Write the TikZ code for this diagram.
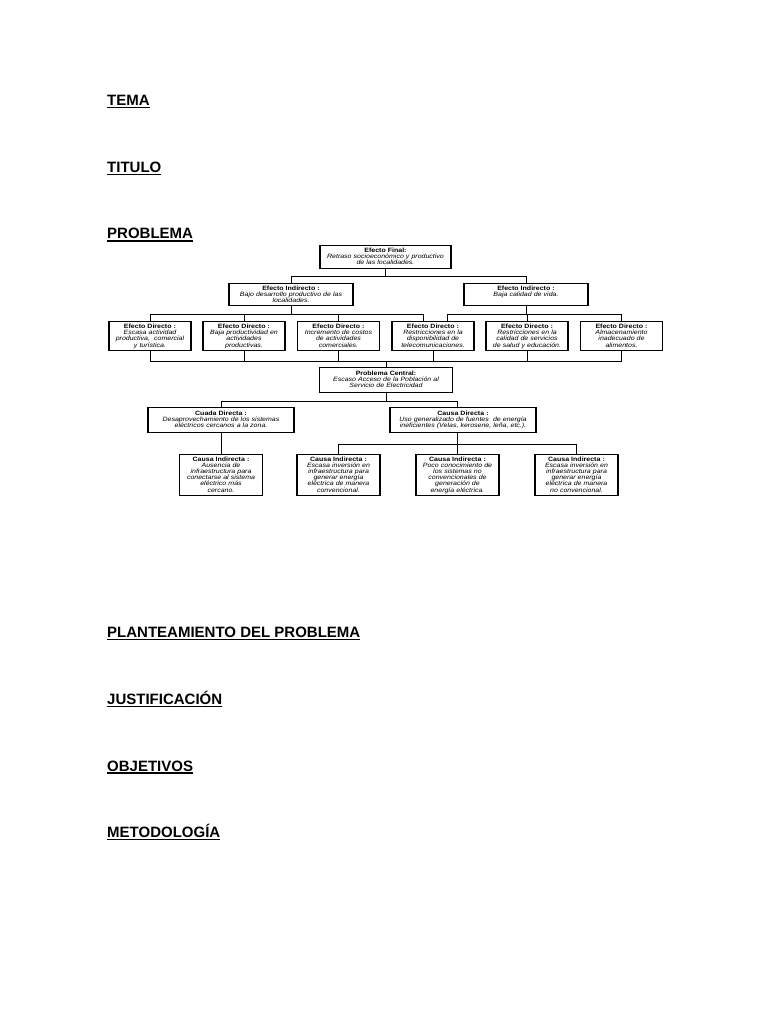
\documentclass[tikz,border=0pt]{standalone}
\usepackage{fontspec}
\setmainfont{Liberation Sans}
\newfontfamily\boxfont[FakeStretch=1.13]{Liberation Sans}
\usepackage{xcolor}
\newcommand\hul[1]{\sbox0{#1}\rlap{\usebox0}\rule[-2.6pt]{\wd0}{1.3pt}}
\newcommand\bx[2]{\rule{0pt}{5pt}\textbf{#1}\\{\itshape #2\rule[-1.7pt]{0pt}{1.7pt}}}
\newcommand\tightlines{\lineskiplimit=-5pt\relax\lineskip=0pt\relax}

\begin{document}
\begin{tikzpicture}[
    x=1pt, y=-1pt,
    head/.style={anchor=base west, inner sep=0pt, font=\fontsize{15}{16}\selectfont\bfseries},
    box/.style={draw, line width=1.2pt, anchor=north, inner xsep=0pt, inner ysep=1.5pt, align=center, font=\boxfont\fontsize{6.2}{6.2}\selectfont\tightlines},
    efbox/.style={box, text width=131pt, minimum height=23pt},
    eibox/.style={box, text width=124pt, minimum height=22pt},
    edbox/.style={box, text width=82pt, minimum height=29pt},
    pcbox/.style={box, text width=133pt, minimum height=25pt},
    cdbox/.style={box, text width=146pt, minimum height=25pt},
    cibox/.style={box, text width=83pt, minimum height=40pt},
    conn/.style={line width=0.8pt}
]
\path[use as bounding box, fill=white] (0,0) rectangle (768,1024);

\node[head] (tema) at (107,105.7) {\hul{TEMA}};
\node[head] (titulo) at (107,172.4) {\hul{TITULO}};
\node[head] (problema) at (107,239) {\hul{PROBLEMA}};
\node[head] (planteamiento) at (107,637.7) {\hul{PLANTEAMIENTO DEL PROBLEMA}};
\node[head] (justificacion) at (107,704.4) {\hul{JUSTIFICACIÓN}};
\node[head] (objetivos) at (107,771) {\hul{OBJETIVOS}};
\node[head] (metodologia) at (107,837.7) {\hul{METODOLOGÍA}};

\node[efbox] (ef) at (385.5,245) {\bx{Efecto Final:}{Retraso socioeconómico y productivo\\de las localidades.}};

\node[eibox] (ei1) at (291,283) {\bx{Efecto Indirecto :}{Bajo desarrollo productivo de las\\localidades.}};
\node[eibox] (ei2) at (526,283) {\bx{Efecto Indirecto :}{Baja calidad de vida.\\\mbox{}}};

\node[edbox] (ed1) at (150,321) {\bx{Efecto Directo :}{Escasa actividad\\productiva,\ \ comercial\\y turística.}};
\node[edbox] (ed2) at (244,321) {\bx{Efecto Directo :}{Baja productividad en\\actividades\\productivas.}};
\node[edbox] (ed3) at (338.5,321) {\bx{Efecto Directo :}{Incremento de costos\\de actividades\\comerciales.}};
\node[edbox] (ed4) at (433,321) {\bx{Efecto Directo :}{Restricciones en la\\disponibilidad de\\telecomunicaciones.}};
\node[edbox] (ed5) at (527,321) {\bx{Efecto Directo :}{Restricciones en la\\calidad de servicios\\de salud y educación.}};
\node[edbox] (ed6) at (621.5,321) {\bx{Efecto Directo :}{Almacenamiento\\inadecuado de\\alimentos.}};

\node[pcbox] (pc) at (386,367) {\bx{Problema Central:}{Escaso Acceso de la Población al\\Servicio de Electricidad}};

\node[cdbox] (cd1) at (221,407) {\bx{Cuada Directa :}{Desaprovechamiento de los sistemas\\eléctricos cercanos a la zona.}};
\node[cdbox] (cd2) at (463,407) {\bx{Causa Directa :}{Uso generalizado de fuentes\ \ de energía\\ineficientes (Velas, kerosene, leña, etc.).}};

\node[cibox] (ci1) at (221,454) {\bx{Causa Indirecta :}{Ausencia de\\infraestructura para\\conectarse al sistema\\eléctrico más\\cercano.}};
\node[cibox] (ci2) at (338.5,454) {\bx{Causa Indirecta :}{Escasa inversión en\\infraestructura para\\generar energía\\eléctrica de manera\\convencional.}};
\node[cibox] (ci3) at (457.5,454) {\bx{Causa Indirecta :}{Poco conocimiento de\\los sistemas no\\convencionales de\\generación de\\energía eléctrica.}};
\node[cibox] (ci4) at (576.5,454) {\bx{Causa Indirecta :}{Escasa inversión en\\infraestructura para\\generar energía\\eléctrica de manera\\no convencional.}};

\draw[conn] (ef.south) -- ++(0,7) -| (ei1.north);
\draw[conn] (ef.south) -- ++(0,7) -| (ei2.north);

\draw[conn] (ei1.south) -- ++(0,8) -| (ed1.north);
\draw[conn] (ei1.south) -- ++(0,8) -| (ed2.north);
\draw[conn] (ei1.south) -- ++(0,8) -| (ed3.north);
\draw[conn] (ei1.south) -- ++(0,8) -| ([xshift=-10pt]ed4.north);
\draw[conn] (ei2.south) -- ++(0,8) -| ([xshift=14pt]ed4.north);
\draw[conn] (ei2.south) -- ++(0,8) -| (ed5.north);
\draw[conn] (ei2.south) -- ++(0,8) -| (ed6.north);

\draw[conn] (ed1.south) -- ++(0,10) -| (pc.north);
\draw[conn] (ed2.south) -- ++(0,10) -| (pc.north);
\draw[conn] (ed3.south) -- ++(0,10) -| (pc.north);
\draw[conn] (ed4.south) -- ++(0,10) -| (pc.north);
\draw[conn] (ed5.south) -- ++(0,10) -| (pc.north);
\draw[conn] (ed6.south) -- ++(0,10) -| (pc.north);

\draw[conn] (pc.south) -- ++(0,8) -| (cd1.north);
\draw[conn] (pc.south) -- ++(0,8) -| ([xshift=-6pt]cd2.north);

\draw[conn] (cd1.south) -- (ci1.north);
\draw[conn] ([xshift=-6pt]cd2.south) -- ++(0,11) -| (ci2.north);
\draw[conn] ([xshift=-6pt]cd2.south) -- ++(0,11) -| (ci3.north);
\draw[conn] ([xshift=-6pt]cd2.south) -- ++(0,11) -| (ci4.north);
\end{tikzpicture}
\end{document}
